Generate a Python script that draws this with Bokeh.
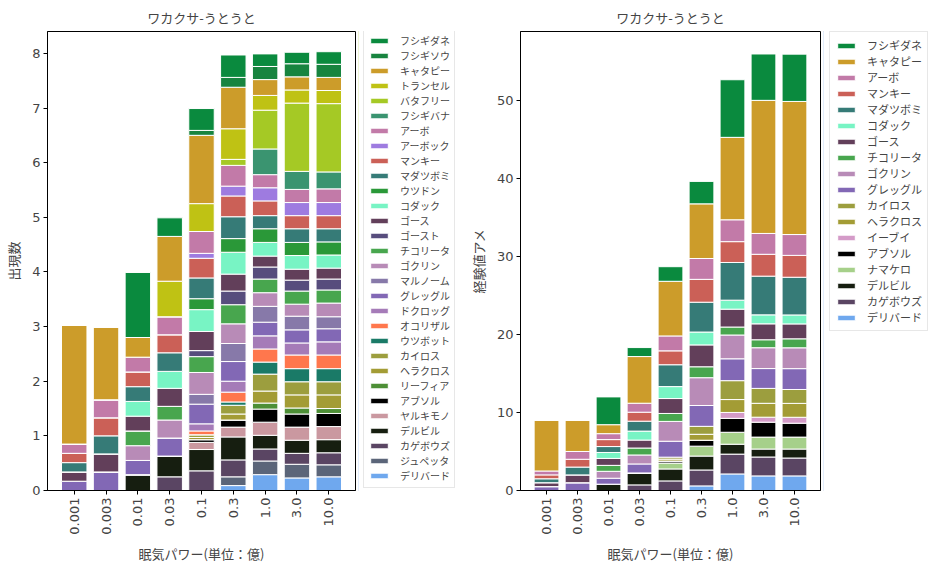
import math
from bokeh.plotting import figure
from bokeh.layouts import row
from bokeh.models import ColumnDataSource, Range1d, FixedTicker, Legend, LegendItem
from bokeh.core.properties import value
from bokeh.embed import file_html
from bokeh.resources import INLINE

TITLE = "ワカクサ-うとうと"
CATEGORIES = ["0.001", "0.003", "0.01", "0.03", "0.1", "0.3", "1.0", "3.0", "10.0"]
X_LABEL = "眠気パワー(単位：億)"
Y_LABEL_LEFT = "出現数"
Y_LABEL_RIGHT = "経験値アメ"

# ---- left chart: appearance counts (legend order = top of stack first) ----
LEFT_NAMES = ["フシギダネ", "フシギソウ", "キャタピー", "トランセル", "バタフリー", "フシギバナ",
              "アーボ", "アーボック", "マンキー", "マダツボミ", "ウツドン", "コダック", "ゴース",
              "ゴースト", "チコリータ", "ゴクリン", "マルノーム", "グレッグル", "ドクロッグ",
              "オコリザル", "ウツボット", "カイロス", "ヘラクロス", "リーフィア", "アブソル",
              "ヤルキモノ", "デルビル", "カゲボウズ", "ジュペッタ", "デリバード"]
フシギダネ_L = [0, 0, 1.19, 0.34, 0.40, 0.41, 0.23, 0.21, 0.23]
フシギソウ_L = [0, 0, 0, 0, 0.09, 0.18, 0.24, 0.24, 0.24]
キャタピー_L = [2.17, 1.33, 0.36, 0.82, 1.25, 0.76, 0.29, 0.24, 0.24]
トランセル_L = [0, 0, 0, 0.65, 0.51, 0.56, 0.27, 0.24, 0.24]
バタフリー_L = [0, 0, 0, 0, 0, 0.11, 0.71, 1.25, 1.25]
フシギバナ_L = [0, 0, 0, 0, 0, 0, 0.47, 0.33, 0.31]
アーボ_L = [0.17, 0.33, 0.27, 0.33, 0.40, 0.38, 0.24, 0.24, 0.25]
アーボック_L = [0, 0, 0, 0, 0.09, 0.18, 0.24, 0.24, 0.24]
マンキー_L = [0.17, 0.33, 0.27, 0.33, 0.36, 0.38, 0.27, 0.24, 0.24]
マダツボミ_L = [0.17, 0.33, 0.27, 0.34, 0.38, 0.40, 0.24, 0.25, 0.24]
ウツドン_L = [0, 0, 0, 0, 0.20, 0.25, 0.25, 0.24, 0.24]
コダック_L = [0, 0, 0.27, 0.31, 0.40, 0.40, 0.25, 0.25, 0.24]
ゴース_L = [0.17, 0.33, 0.27, 0.33, 0.35, 0.31, 0.20, 0.20, 0.20]
ゴースト_L = [0, 0, 0, 0, 0.11, 0.25, 0.22, 0.20, 0.20]
チコリータ_L = [0, 0, 0.27, 0.25, 0.29, 0.35, 0.25, 0.24, 0.24]
ゴクリン_L = [0, 0, 0.27, 0.33, 0.40, 0.36, 0.25, 0.22, 0.25]
マルノーム_L = [0, 0, 0, 0, 0.18, 0.33, 0.29, 0.25, 0.22]
グレッグル_L = [0.17, 0.34, 0.26, 0.33, 0.36, 0.36, 0.25, 0.24, 0.24]
ドクロッグ_L = [0, 0, 0, 0, 0.13, 0.20, 0.24, 0.22, 0.24]
オコリザル_L = [0, 0, 0, 0, 0.07, 0.18, 0.24, 0.25, 0.25]
ウツボット_L = [0, 0, 0, 0, 0, 0.06, 0.22, 0.24, 0.24]
カイロス_L = [0, 0, 0, 0, 0.05, 0.16, 0.31, 0.24, 0.24]
ヘラクロス_L = [0, 0, 0, 0, 0.04, 0.11, 0.22, 0.24, 0.25]
リーフィア_L = [0, 0, 0, 0, 0, 0, 0.11, 0.11, 0.09]
アブソル_L = [0, 0, 0, 0, 0.05, 0.13, 0.24, 0.24, 0.24]
ヤルキモノ_L = [0, 0, 0, 0, 0.13, 0.18, 0.24, 0.24, 0.24]
デルビル_L = [0, 0, 0.29, 0.38, 0.39, 0.42, 0.25, 0.24, 0.24]
カゲボウズ_L = [0, 0, 0, 0.25, 0.36, 0.31, 0.22, 0.20, 0.22]
ジュペッタ_L = [0, 0, 0, 0, 0, 0.16, 0.25, 0.25, 0.22]
デリバード_L = [0, 0, 0, 0, 0, 0.09, 0.29, 0.23, 0.25]
LEFT_VALUES = [フシギダネ_L, フシギソウ_L, キャタピー_L, トランセル_L, バタフリー_L, フシギバナ_L,
               アーボ_L, アーボック_L, マンキー_L, マダツボミ_L, ウツドン_L, コダック_L, ゴース_L,
               ゴースト_L, チコリータ_L, ゴクリン_L, マルノーム_L, グレッグル_L, ドクロッグ_L,
               オコリザル_L, ウツボット_L, カイロス_L, ヘラクロス_L, リーフィア_L, アブソル_L,
               ヤルキモノ_L, デルビル_L, カゲボウズ_L, ジュペッタ_L, デリバード_L]

# ---- right chart: experience candy ----
RIGHT_NAMES = ["フシギダネ", "キャタピー", "アーボ", "マンキー", "マダツボミ", "コダック", "ゴース",
               "チコリータ", "ゴクリン", "グレッグル", "カイロス", "ヘラクロス", "イーブイ",
               "アブソル", "ナマケロ", "デルビル", "カゲボウズ", "デリバード"]
フシギダネ_R = [0, 0, 3.56, 1.15, 1.87, 2.88, 7.38, 5.94, 6.06]
キャタピー_R = [6.5, 4.0, 1.15, 5.98, 7.0, 7.0, 10.56, 17.05, 17.05]
アーボ_R = [0.5, 1.0, 0.76, 1.15, 1.91, 2.67, 2.80, 2.67, 2.67]
マンキー_R = [0.5, 1.0, 0.89, 1.15, 1.78, 2.93, 2.67, 2.80, 2.80]
マダツボミ_R = [0.5, 1.0, 0.76, 1.27, 2.80, 3.82, 4.83, 4.96, 4.83]
コダック_R = [0, 0, 0.76, 1.15, 1.53, 1.65, 1.15, 1.15, 1.15]
ゴース_R = [0.5, 1.0, 0.89, 1.02, 1.91, 2.80, 2.29, 2.04, 1.91]
チコリータ_R = [0, 0, 0.76, 0.89, 1.02, 1.40, 1.02, 1.02, 1.15]
ゴクリン_R = [0, 0, 0.89, 1.15, 2.54, 3.56, 3.05, 2.67, 2.67]
グレッグル_R = [0.5, 1.0, 0.76, 1.15, 2.04, 2.67, 2.80, 2.54, 2.67]
カイロス_R = [0, 0, 0, 0, 0.25, 1.02, 2.42, 1.91, 1.78]
ヘラクロス_R = [0, 0, 0, 0, 0.25, 0.76, 1.65, 1.78, 1.78]
イーブイ_R = [0, 0, 0, 0, 0, 0, 0.76, 0.64, 0.76]
アブソル_R = [0, 0, 0, 0, 0.25, 0.76, 1.78, 1.91, 1.78]
ナマケロ_R = [0, 0, 0, 0, 0.76, 1.27, 1.53, 1.53, 1.53]
デルビル_R = [0, 0, 0.81, 1.53, 1.53, 1.78, 1.27, 1.02, 1.15]
カゲボウズ_R = [0, 0, 0, 0.72, 1.23, 2.04, 2.54, 2.42, 2.29]
デリバード_R = [0, 0, 0, 0, 0, 0.59, 2.12, 1.87, 1.87]
RIGHT_VALUES = [フシギダネ_R, キャタピー_R, アーボ_R, マンキー_R, マダツボミ_R, コダック_R, ゴース_R,
                チコリータ_R, ゴクリン_R, グレッグル_R, カイロス_R, ヘラクロス_R, イーブイ_R,
                アブソル_R, ナマケロ_R, デルビル_R, カゲボウズ_R, デリバード_R]

COLORS = {
    "フシギダネ": "#0a8a3e", "フシギソウ": "#17843f", "キャタピー": "#cc9c2a", "トランセル": "#bfc214",
    "バタフリー": "#a5c925", "フシギバナ": "#3a9470", "アーボ": "#c27aa8", "アーボック": "#9e7be0",
    "マンキー": "#cb6057", "マダツボミ": "#367b77", "ウツドン": "#2a9838", "コダック": "#78f4c4",
    "ゴース": "#623f5a", "ゴースト": "#574d7d", "チコリータ": "#48a64e", "ゴクリン": "#b88bb7",
    "マルノーム": "#8779a9", "グレッグル": "#8268b5", "ドクロッグ": "#a57bb8", "オコリザル": "#ff774d",
    "ウツボット": "#1a7a67", "カイロス": "#9c9e3e", "ヘラクロス": "#a39c35", "リーフィア": "#4d8f36",
    "アブソル": "#000000", "ヤルキモノ": "#ca98a0", "デルビル": "#161e10", "カゲボウズ": "#5a4563",
    "ジュペッタ": "#5b6579", "デリバード": "#6fa8ee", "イーブイ": "#d49bc8", "ナマケロ": "#a6d08a",
}

JP = "Noto Sans CJK JP"
NUM = "DejaVu Sans"
H = 568
TOP = 28
BOTTOM = 78
FRAME_H = H - TOP - BOTTOM


def build_source(values):
    data = {"x": list(range(len(CATEGORIES)))}
    keys = []
    for i, v in enumerate(values):
        k = "s%d" % i
        keys.append(k)
        data[k] = v
    return ColumnDataSource(data), keys


def make_chart(names, src, keys, ymax, yticks, ylabel, width):
    p = figure(width=width, height=H, output_backend="svg", toolbar_location=None,
               x_range=Range1d(-0.84, 8.84), y_range=Range1d(0, ymax),
               min_border_left=47, min_border_right=3,
               min_border_top=TOP, min_border_bottom=BOTTOM, title=TITLE)
    p.vbar_stack(keys[::-1], x="x", width=0.8, source=src,
                 fill_color=[COLORS[n] for n in names[::-1]],
                 line_color="white", line_width=1)

    p.title.text_font = JP
    p.title.text_font_size = "13px"
    p.title.text_font_style = "normal"
    p.title.align = "center"

    p.xgrid.visible = False
    p.ygrid.visible = False
    p.outline_line_color = "black"
    p.outline_line_alpha = 1

    p.xaxis.ticker = FixedTicker(ticks=list(range(len(CATEGORIES))))
    p.xaxis.major_label_overrides = {i: c for i, c in enumerate(CATEGORIES)}
    p.xaxis.major_label_orientation = math.pi / 2
    p.xaxis.axis_label = X_LABEL
    p.yaxis.ticker = FixedTicker(ticks=yticks)
    p.yaxis.axis_label = ylabel
    for ax in (p.xaxis, p.yaxis):
        ax.axis_label_text_font = JP
        ax.axis_label_text_font_size = "13px"
        ax.axis_label_text_font_style = "normal"
        ax.major_label_text_font = NUM
        ax.major_label_text_font_size = "13px"
        ax.major_tick_out = 4
        ax.major_tick_in = 0
        ax.minor_tick_line_color = None
        ax.axis_line_color = "black"
        ax.major_tick_line_color = "black"
        ax.major_label_standoff = 3
        ax.axis_label_standoff = 6
    return p


def make_legend(names, src, keys, width, x_off, item_h, top_gap, pad, font_size):
    # legend-only panel: its renderers use the chart data but lie outside its visible range
    q = figure(width=width, height=H, output_backend="svg", toolbar_location=None,
               x_range=Range1d(100, 101), y_range=Range1d(0, 1),
               x_axis_type=None, y_axis_type=None,
               min_border_left=0, min_border_right=0,
               min_border_top=TOP, min_border_bottom=BOTTOM)
    q.xgrid.visible = False
    q.ygrid.visible = False
    q.outline_line_color = None
    items = []
    for n, k in zip(names, keys):
        r = q.vbar(x="x", top=k, width=0.8, source=src,
                   fill_color=COLORS[n], line_color="white", line_width=1)
        items.append(LegendItem(label=value(n), renderers=[r]))
    leg_h = 2 * pad + item_h * len(names)
    leg = Legend(items=items, location=(x_off, FRAME_H - top_gap - leg_h),
                 glyph_width=22, glyph_height=7,
                 label_height=item_h, spacing=0, label_standoff=10, padding=pad, margin=0,
                 label_text_font=JP, label_text_font_size=font_size,
                 border_line_color="#d0d0d0", border_line_width=1)
    q.add_layout(leg, "center")
    return q


src_l, keys_l = build_source(LEFT_VALUES)
src_r, keys_r = build_source(RIGHT_VALUES)

p1 = make_chart(LEFT_NAMES, src_l, keys_l, 8.4, list(range(0, 9)), Y_LABEL_LEFT, 358)
l1 = make_legend(LEFT_NAMES, src_l, keys_l, 107, 5, 15, 2, 4, "10px")
p2 = make_chart(RIGHT_NAMES, src_r, keys_r, 58.8, [0, 10, 20, 30, 40, 50], Y_LABEL_RIGHT, 358)
l2 = make_legend(RIGHT_NAMES, src_r, keys_r, 110, 6, 16, 5, 5, "11px")

layout = row(p1, l1, p2, l2)
open("out.html", "w").write(file_html(layout, INLINE))
